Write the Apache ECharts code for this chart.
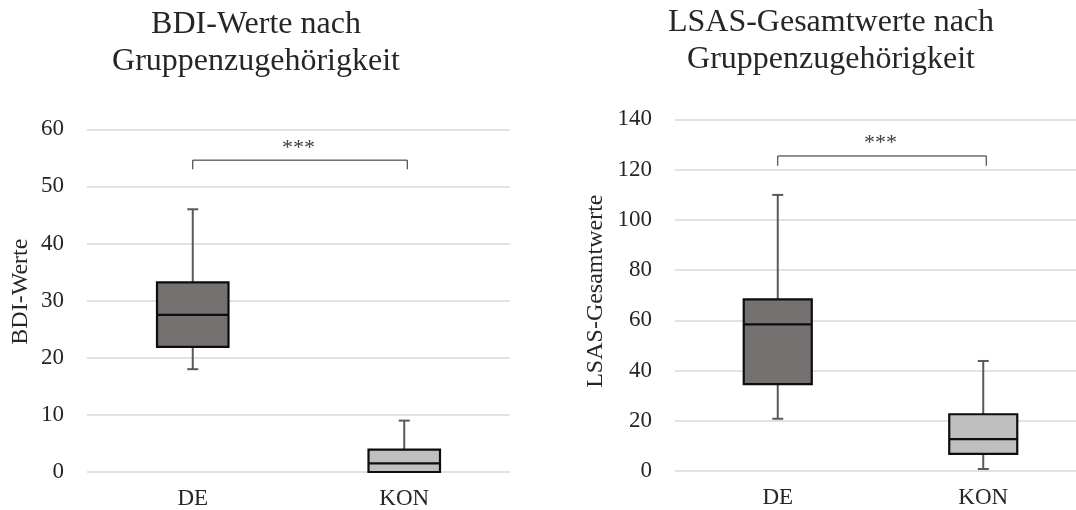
<!DOCTYPE html>
<html>
<head>
<meta charset="utf-8">
<script src="https://cdn.jsdelivr.net/npm/echarts@6/dist/echarts.min.js"></script>
<style>
  html, body { margin: 0; padding: 0; background: #fff; overflow: hidden; }
  #chart { width: 1090px; height: 510px; }
</style>
</head>
<body>
<div id="chart"></div>
<script>
const categories = ['DE', 'KON']
// [min, q1, median, q3, max]
const bdiStats = [
  [18, 21.9, 27.5, 33.2, 46],
  [0, 0, 1.5, 3.9, 9],
]
const lsasStats = [
  [20.8, 34.6, 58.4, 68.3, 109.9],
  [0.8, 6.8, 12.7, 22.6, 43.8],
]
// significance bracket: [top, leg end, label height]
const bdiBracket = [54.6, 53.0, 56.7]
const lsasBracket = [125.4, 121.5, 130.4]
const sigLabel = '***'
const bdiTicks = { min: 0, max: 60, interval: 10 }
const lsasTicks = { min: 0, max: 140, interval: 20 }

const font = '"Liberation Serif", "Times New Roman", serif'
const textColor = '#262626'
const boxFills = ['#767171', '#BFBFBF']

const chart = echarts.init(document.getElementById('chart'), null, { renderer: 'canvas' })

const boxRenderer = (ratio) => (params, api) => {
  const c = api.value(0)
  const half = api.size([1, 0])[0] * ratio / 2
  const x = api.coord([c, 0])[0]
  const y = i => api.coord([c, api.value(i)])[1]
  const yMin = y(1), yQ1 = y(2), yMed = y(3), yQ3 = y(4), yMax = y(5)
  const whisker = { stroke: '#595959', lineWidth: 2 }
  const children = []
  if (yMin - yQ1 > 0.5) {
    children.push({ type: 'line', shape: { x1: x, y1: yQ1, x2: x, y2: yMin }, style: whisker })
    children.push({ type: 'line', shape: { x1: x - 5.5, y1: yMin, x2: x + 5.5, y2: yMin }, style: whisker })
  }
  children.push({ type: 'line', shape: { x1: x, y1: yQ3, x2: x, y2: yMax }, style: whisker })
  children.push({ type: 'line', shape: { x1: x - 5.5, y1: yMax, x2: x + 5.5, y2: yMax }, style: whisker })
  children.push({
    type: 'rect',
    shape: { x: x - half, y: yQ3, width: half * 2, height: yQ1 - yQ3 },
    style: { fill: boxFills[params.dataIndex], stroke: '#0d0d0d', lineWidth: 2.2 },
  })
  children.push({ type: 'line', shape: { x1: x - half, y1: yMed, x2: x + half, y2: yMed }, style: { stroke: '#0d0d0d', lineWidth: 2.2 } })
  return { type: 'group', children }
}

const bracketRenderer = (params, api) => {
  const p0 = api.coord([0, api.value(2)])
  const p1 = api.coord([1, api.value(2)])
  const leg = api.coord([0, api.value(3)])[1]
  const lab = api.coord([0, api.value(4)])[1]
  return {
    type: 'group',
    children: [
      {
        type: 'polyline',
        shape: { points: [[p0[0], leg], [p0[0], p0[1]], [p1[0] + 3, p1[1]], [p1[0] + 3, leg]] },
        style: { stroke: '#262626', lineWidth: 1, fill: null },
      },
      {
        type: 'text',
        style: {
          x: (p0[0] + p1[0]) / 2, y: lab, text: sigLabel,
          align: 'center', verticalAlign: 'middle',
          font: `22px ${font}`, fill: '#404040',
        },
      },
    ],
  }
}

const yAxisBase = (name, ticks, gridIndex, gap, shift) => ({
  type: 'value',
  gridIndex,
  min: ticks.min,
  max: ticks.max,
  interval: ticks.interval,
  name,
  nameLocation: 'middle',
  nameGap: gap,
  nameTextStyle: { fontFamily: font, fontSize: 24, color: textColor, padding: [0, 0, 0, shift] },
  axisLine: { show: false },
  axisTick: { show: false },
  axisLabel: { fontFamily: font, fontSize: 23, color: textColor, margin: 23 },
  splitLine: { lineStyle: { color: '#D9D9D9', width: 1.5 } },
})

const xAxisBase = gridIndex => ({
  type: 'category',
  gridIndex,
  data: categories,
  axisLine: { show: false },
  axisTick: { show: false },
  axisLabel: { fontFamily: font, fontSize: 23, color: textColor, margin: 15 },
})

const titleBase = (text, x, top) => ({
  text,
  left: x,
  top,
  textAlign: 'center',
  padding: 0,
  textStyle: { fontFamily: font, fontSize: 32, lineHeight: 37, fontWeight: 'normal', color: textColor },
})

const option = {
  animation: false,
  title: [
    titleBase('BDI-Werte nach\nGruppenzugehörigkeit', 256, 6),
    titleBase('LSAS-Gesamtwerte nach\nGruppenzugehörigkeit', 831, 4),
  ],
  grid: [
    { left: 87, top: 129.3, width: 423, height: 343 },
    { left: 675, top: 119.3, width: 411, height: 351.7 },
  ],
  xAxis: [xAxisBase(0), xAxisBase(1)],
  yAxis: [
    yAxisBase('BDI-Werte', bdiTicks, 0, 54, 18),
    yAxisBase('LSAS-Gesamtwerte', lsasTicks, 1, 67, 8),
  ],
  series: [
    {
      type: 'custom',
      xAxisIndex: 0,
      yAxisIndex: 0,
      renderItem: boxRenderer(0.338),
      encode: { x: 0, y: [1, 2, 3, 4, 5] },
      data: bdiStats.map((s, i) => [i, ...s]),
    },
    {
      type: 'custom',
      xAxisIndex: 1,
      yAxisIndex: 1,
      renderItem: boxRenderer(0.331),
      encode: { x: 0, y: [1, 2, 3, 4, 5] },
      data: lsasStats.map((s, i) => [i, ...s]),
    },
    {
      type: 'custom',
      xAxisIndex: 0,
      yAxisIndex: 0,
      renderItem: bracketRenderer,
      encode: { x: [0, 1], y: [2, 3, 4] },
      data: [[0, 1, ...bdiBracket]],
    },
    {
      type: 'custom',
      xAxisIndex: 1,
      yAxisIndex: 1,
      renderItem: bracketRenderer,
      encode: { x: [0, 1], y: [2, 3, 4] },
      data: [[0, 1, ...lsasBracket]],
    },
  ],
}
chart.setOption(option)
</script>
</body>
</html>
